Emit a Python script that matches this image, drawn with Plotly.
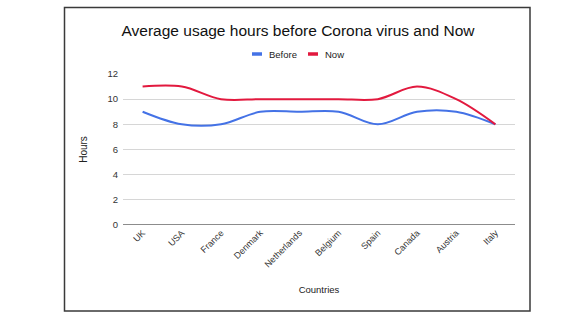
import plotly.graph_objects as go

countries = ["UK", "USA", "France", "Denmark", "Netherlands", "Belgium", "Spain", "Canada", "Austria", "Italy"]
before = [9, 8, 8, 9, 9, 9, 8, 9, 9, 8]
now = [11, 11, 10, 10, 10, 10, 10, 11, 10, 8]
y_ticks = [0, 2, 4, 6, 8, 10, 12]
series_names = ["Before", "Now"]
series_colors = ["#4472E6", "#E2193E"]

W, H = 580, 326
L, R, T, B = 123, 65, 74, 101
pw, ph = W - L - R, H - T - B

def px(x):
    return (x - L) / pw

def py(y):
    return (H - B - y) / ph

fig = go.Figure()
for name, vals, col in zip(series_names, [before, now], series_colors):
    fig.add_trace(go.Scatter(x=countries, y=vals, name=name, mode="lines",
                             line=dict(color=col, width=2, shape="spline", smoothing=1.0),
                             showlegend=False))

fig.add_shape(type="rect", xref="paper", yref="paper",
              x0=px(64.5), x1=px(530), y0=py(311), y1=py(7.5),
              line=dict(color="#3a3a3a", width=1.5), fillcolor="rgba(0,0,0,0)", layer="below")

# custom legend (short swatches like the reference)
legend_x = [252, 308]
for name, col, lx in zip(series_names, series_colors, legend_x):
    fig.add_shape(type="line", xref="paper", yref="paper",
                  x0=px(lx), x1=px(lx + 10), y0=py(54), y1=py(54),
                  line=dict(color=col, width=3.5))
    fig.add_annotation(text=name, xref="paper", yref="paper", x=px(lx + 15), y=py(54),
                       xanchor="left", yanchor="middle", showarrow=False,
                       font=dict(size=9.5, color="#222"))

fig.update_layout(
    width=W, height=H,
    margin=dict(l=L, r=R, t=T, b=B, autoexpand=False),
    paper_bgcolor="white", plot_bgcolor="white",
    font=dict(family="Liberation Sans, Arial, sans-serif", color="#222"),
    title=dict(text="Average usage hours before Corona virus and Now",
               x=298 / W, xanchor="center", y=1 - 31 / H, yanchor="middle",
               font=dict(size=15.5, color="#111")),
    xaxis=dict(type="category", range=[-0.5, 9.5], tickangle=-45,
               tickfont=dict(size=9, color="#333"), showgrid=False, ticks="",
               showline=False, zeroline=False,
               title=dict(text="Countries", font=dict(size=9.5, color="#222"), standoff=17)),
    yaxis=dict(range=[0, 12], tickvals=y_ticks, tickfont=dict(size=9.5, color="#333"),
               gridcolor="#d6d6d6", gridwidth=1, zeroline=False, showline=False, ticks="",
               ticklabelstandoff=4,
               title=dict(text="Hours", font=dict(size=10, color="#222"), standoff=17)),
    showlegend=False,
)
fig.add_hline(y=0, line=dict(color="#666", width=1.5))

fig.write_html("out.html")
